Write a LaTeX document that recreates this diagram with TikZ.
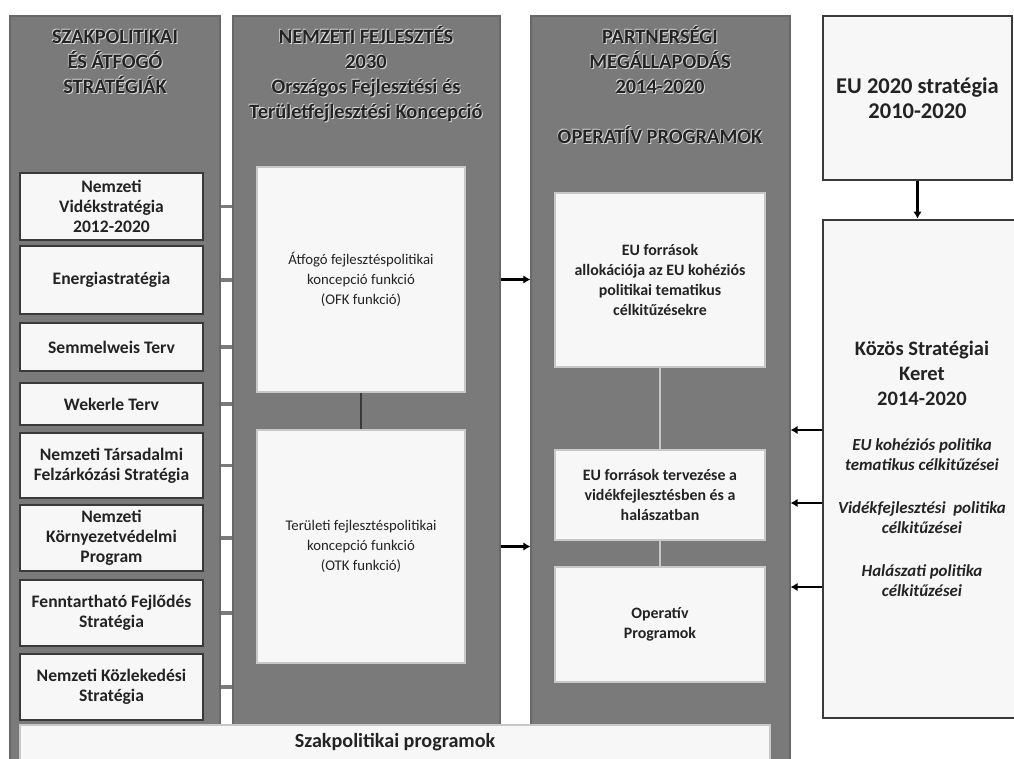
\documentclass[tikz,border=0pt]{standalone}
\usepackage{fontspec}
\setmainfont{Carlito}
\usetikzlibrary{arrows.meta,positioning,calc}
\definecolor{colgray}{RGB}{122,122,122}
\definecolor{boxfill}{RGB}{247,247,247}
\definecolor{boxedge}{RGB}{200,200,200}
\definecolor{darkedge}{RGB}{58,58,58}
\definecolor{inktext}{RGB}{35,35,35}
\definecolor{halo}{RGB}{215,215,215}
\newlength{\px}
\setlength{\px}{0.025cm}
% heading text with a light halo
\newcommand{\hd}[1]{\leavevmode\rlap{\textcolor{halo}{\hspace*{0.7pt}\raisebox{-0.7pt}{#1}}}\rlap{\textcolor{halo}{\hspace*{-0.5pt}\raisebox{0.5pt}{#1}}}#1}
% upright title line in the KSK box
\newcommand{\kt}[1]{{\fontsize{14.6}{17.8}\selectfont\upshape #1}}
\tikzset{>={Latex[length=5pt,width=6pt]}}
\tikzset{%
    column/.style={fill=colgray, draw=colgray!85!black, line width=0.8pt, inner sep=0pt},%
    heading/.style={font=\fontsize{14.5}{17.8}\selectfont\bfseries, text=inktext, align=center},%
    stratbox/.style={fill=boxfill, draw=darkedge, line width=2pt, inner sep=0pt, align=center,%
        minimum width=183\px, text=inktext, font=\fontsize{12.5}{14.2}\selectfont\bfseries},%
    innerbox/.style={fill=boxfill, draw=boxedge, line width=1pt, inner sep=0pt, align=center,%
        text=inktext, font=\fontsize{10.5}{14.2}\selectfont},%
    opbox/.style={innerbox, minimum width=210\px, font=\fontsize{11.3}{14.2}\selectfont\bfseries},%
    eubox/.style={fill=boxfill, draw=darkedge, line width=1.8pt, inner sep=0pt, align=center,%
        text=inktext},%
    bar/.style={colgray, line width=2.8pt},%
    link/.style={line width=2pt},%
    arr/.style={->, line width=2pt, black}%
}

\begin{document}
\begin{tikzpicture}[x=0.025cm,y=-0.025cm]
    \useasboundingbox (0,0) rectangle (1014,758);
    \clip (0,0) rectangle (1014,758);
    % columns
    \node[column, minimum width=210\px, minimum height=759\px] (leftcol) at (115,395.5) {};
    \node[column, minimum width=267\px, minimum height=709\px] (midcol) at (366.5,370.5) {};
    \node[column, minimum width=259\px, minimum height=759\px] (rightcol) at (660.5,395.5) {};
    \node[heading] (lefthead) at (115,62) {\hd{SZAKPOLITIKAI}\\\hd{ÉS ÁTFOGÓ}\\\hd{STRATÉGIÁK}};
    \node[heading] (midhead) at (366,74) {\hd{NEMZETI FEJLESZTÉS}\\\hd{2030}\\\hd{Országos Fejlesztési és}\\\hd{Területfejlesztési Koncepció}};
    \node[heading] (righthead) at (660,85) {\hd{PARTNERSÉGI}\\\hd{MEGÁLLAPODÁS}\\\hd{2014-2020}\\[17.8pt]\hd{OPERATÍV PROGRAMOK}};
    % strategies
    \node[stratbox, minimum height=67\px] (v1) at (111.5,206.5) {Nemzeti\\Vidékstratégia\\2012-2020};
    \node[stratbox, minimum height=68\px] (v2) at (111.5,280) {Energiastratégia};
    \node[stratbox, minimum height=48\px] (v3) at (111.5,347) {Semmelweis Terv};
    \node[stratbox, minimum height=42\px] (v4) at (111.5,404) {Wekerle Terv};
    \node[stratbox, minimum height=65\px] (v5) at (111.5,465.5) {Nemzeti Társadalmi\\Felzárkózási Stratégia};
    \node[stratbox, minimum height=66\px] (v6) at (111.5,538) {Nemzeti\\Környezetvédelmi\\Program};
    \node[stratbox, minimum height=66\px] (v7) at (111.5,613) {Fenntartható Fejlődés\\Stratégia};
    \node[stratbox, minimum height=66\px] (v8) at (111.5,687) {Nemzeti Közlekedési\\Stratégia};
    \foreach \b in {v1,v2,v3,v4,v5,v6,v7,v8}
        \draw[bar] (\b.center -| leftcol.east) -- (\b.center -| midcol.west);
    % OFK / OTK
    \node[innerbox, minimum width=208\px, minimum height=225\px] (ofk) at (361,279.5) {Átfogó fejlesztéspolitikai\\koncepció funkció\\(OFK funkció)};
    \node[innerbox, minimum width=208\px, minimum height=233\px] (otk) at (361,546.5) {Területi fejlesztéspolitikai\\koncepció funkció\\(OTK funkció)};
    \draw[link, darkedge] (ofk.south) -- (otk.north);
    % operativ programok
    \node[opbox, minimum height=174\px] (alloc) at (660,280) {EU források\\allokációja az EU kohéziós\\politikai tematikus\\célkitűzésekre};
    \node[opbox, minimum height=90\px] (plan) at (660,495) {EU források tervezése a\\vidékfejlesztésben és a\\halászatban};
    \node[opbox, minimum height=115\px] (op) at (660,624.5) {Operatív\\Programok};
    \draw[link, boxedge, line width=1.4pt] (alloc.south) -- (plan.north);
    \draw[link, boxedge, line width=1.4pt] (plan.south) -- (op.north);
    \draw[arr] (ofk.east -| midcol.east) -- (ofk.east -| rightcol.west);
    \draw[arr] (otk.east -| midcol.east) -- (otk.east -| rightcol.west);
    % bottom
    \node[innerbox, minimum width=750\px, minimum height=35\px, font=\fontsize{14.3}{16}\selectfont\bfseries] (szak) at (395,742.5) {Szakpolitikai programok};
    % EU side
    \node[eubox, minimum width=189\px, minimum height=164\px, font=\fontsize{16}{17.8}\selectfont\bfseries] (eu) at (917.5,98) {EU 2020 stratégia\\2010-2020};
    \node[eubox, minimum width=198\px, minimum height=498\px, font=\fontsize{12}{14.2}\selectfont\bfseries\itshape] (ksk) at (922,469) {\kt{Közös Stratégiai}\\[3.6pt]\kt{Keret}\\[3.6pt]\kt{2014-2020}\\[17.8pt]
        EU kohéziós politika\\tematikus célkitűzései\\[16.4pt]
        Vidékfejlesztési\ \ politika\\célkitűzései\\[16.4pt]
        Halászati politika\\célkitűzései};
    \draw[arr] (eu.south) -- (eu.south |- ksk.north);
    \foreach \y [count=\i] in {430,503,587} {
        \coordinate (t\i) at (0,\y);
        \draw[arr] (ksk.west |- t\i) -- (rightcol.east |- t\i);
    }
\end{tikzpicture}
\end{document}
